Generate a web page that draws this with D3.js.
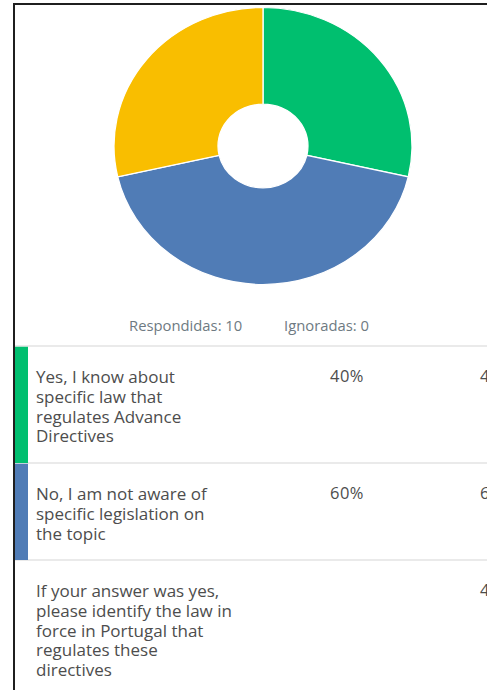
<!DOCTYPE html>
<html>
<head>
<meta charset="utf-8">
<script src="https://cdn.jsdelivr.net/npm/d3@7"></script>
<style>
  html, body { margin: 0; padding: 0; background: #fff; }
  svg { display: block; }
</style>
</head>
<body>
<svg id="chart" width="487" height="690"></svg>
<script>
// Answer choices, wrapped as they appear in the table
const choiceLines = [
  ["Yes, I know about", "specific law that", "regulates Advance", "Directives"],
  ["No, I am not aware of", "specific legislation on", "the topic"],
  ["If your answer was yes,", "please identify the law in", "force in Portugal that", "regulates these", "directives"]
];
const responseCounts = [4, 6, 4];
const responsePercents = [40, 60, null];
const sliceColors = ["#00bf6f", "#507cb6", "#f9be00"];
const answered = 10;
const skipped = 0;

const svg = d3.select("#chart");
const W = 487, H = 690;

// Frame
svg.append("path")
  .attr("d", `M14,${H} V4 H${W}`)
  .attr("fill", "none")
  .attr("stroke", "#1f1f1f")
  .attr("stroke-width", 2);

// Donut
const ry = 138.5, rx = 149;
const pie = d3.pie().sort(null).value(d => d);
const arc = d3.arc().innerRadius(ry * 0.302).outerRadius(ry);
const donut = svg.append("g")
  .attr("transform", `translate(263,146) scale(${rx / ry},1)`);
donut.selectAll("path")
  .data(pie(responseCounts))
  .join("path")
  .attr("d", arc)
  .attr("fill", (d, i) => sliceColors[i])
  .attr("stroke", "#fff")
  .attr("stroke-width", 1.2);

// Summary line
const font = "'Open Sans', 'Noto Sans', sans-serif";
svg.append("text")
  .attr("x", 129).attr("y", 331)
  .attr("font-family", font).attr("font-size", 14.8)
  .attr("fill", "#6e7a82")
  .text(`Respondidas: ${answered}`);
svg.append("text")
  .attr("x", 284).attr("y", 331)
  .attr("font-family", font).attr("font-size", 14.8)
  .attr("fill", "#6e7a82")
  .text(`Ignoradas: ${skipped}`);

// Table rows
const rowTops = [346, 463, 560];
const rowBottoms = [463, 560, H];
const lineH = 19.8;

svg.selectAll("line.sep")
  .data(rowTops)
  .join("line")
  .attr("class", "sep")
  .attr("x1", 15).attr("x2", W)
  .attr("y1", d => d).attr("y2", d => d)
  .attr("stroke", "#e3e3e3")
  .attr("stroke-width", 1.5);

const rows = svg.selectAll("g.row")
  .data(choiceLines.map((lines, i) => ({
    lines, count: responseCounts[i], pct: responsePercents[i],
    top: rowTops[i], bottom: rowBottoms[i], color: i < 2 ? sliceColors[i] : null
  })))
  .join("g")
  .attr("class", "row");

rows.filter(d => d.color)
  .append("rect")
  .attr("x", 15).attr("width", 13)
  .attr("y", d => d.top + 0.75)
  .attr("height", d => d.bottom - d.top - 0.75)
  .attr("fill", d => d.color);

rows.each(function (d) {
  const g = d3.select(this);
  const base = d.top + 37;
  g.append("text")
    .attr("font-family", font).attr("font-size", 17)
    .attr("fill", "#4d4d4d")
    .selectAll("tspan")
    .data(d.lines)
    .join("tspan")
    .attr("x", 36)
    .attr("y", (t, j) => base + j * lineH)
    .text(t => t);
  if (d.pct !== null) {
    g.append("text")
      .attr("x", 330).attr("y", base - 1.5)
      .attr("font-family", font).attr("font-size", 16.5)
      .attr("letter-spacing", 0.5)
      .attr("fill", "#4d4d4d")
      .text(d.pct + "%");
  }
  g.append("text")
    .attr("x", 480).attr("y", base - 1.5)
    .attr("font-family", font).attr("font-size", 16.5)
    .attr("fill", "#4d4d4d")
    .text(d.count);
});
</script>
</body>
</html>
